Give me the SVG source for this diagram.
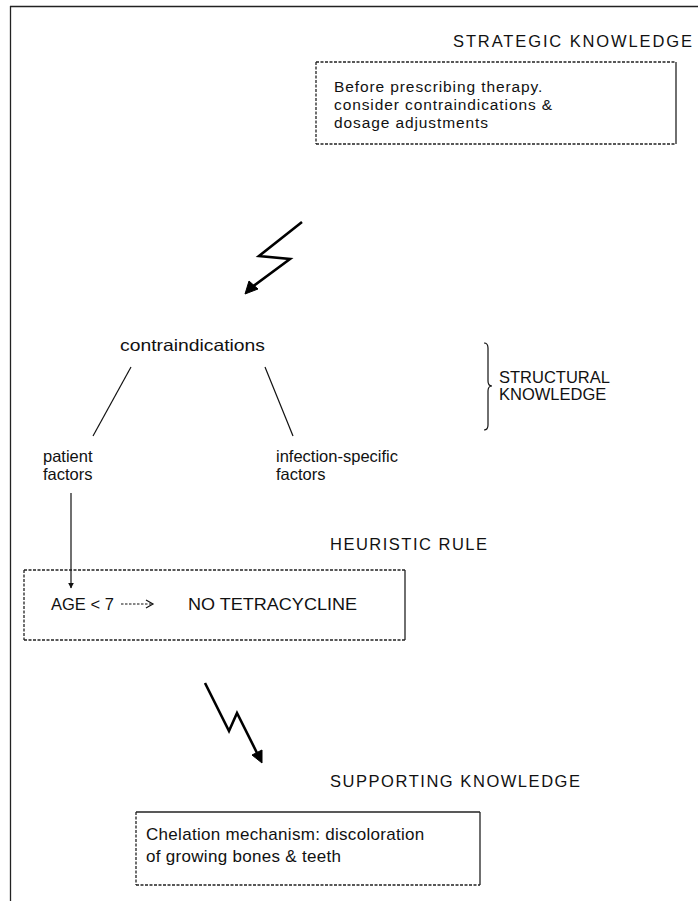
<svg xmlns="http://www.w3.org/2000/svg" width="698" height="901" viewBox="0 0 698 901">
<style>
text{font-family:"Liberation Sans",Arial,sans-serif;fill:#111}
.lbl{font-size:16.5px}
.box{font-size:15.5px;letter-spacing:0.9px}
.box3{font-size:17px;letter-spacing:0.3px}
.n{font-size:16.5px}
.dash{fill:none;stroke:#222;stroke-width:1.3;stroke-dasharray:3 1.5}
.solid{fill:none;stroke:#222;stroke-width:1.3}
.ln{fill:none;stroke:#111;stroke-width:1.2}
.bolt{fill:none;stroke:#000;stroke-width:2.6;stroke-linejoin:miter}
</style>
<defs>
<marker id="tri" viewBox="0 0 10 10" refX="9" refY="5" markerWidth="6" markerHeight="6" orient="auto" markerUnits="userSpaceOnUse">
<path d="M0,0 L10,5 L0,10 z" fill="#111"/>
</marker>
</defs>
<rect width="698" height="901" fill="#fff"/>
<g id="frame">
<line x1="10" y1="6.5" x2="698" y2="6.5" class="solid" stroke-width="1.6"/>
<line x1="10.5" y1="6" x2="10.5" y2="901" class="solid" stroke-width="1.8"/>
</g>
<g id="strategic">
<text class="lbl" x="453" y="47" textLength="239" lengthAdjust="spacing">STRATEGIC  KNOWLEDGE</text>
<line x1="316" y1="62" x2="676" y2="62" class="dash"/>
<line x1="316" y1="62" x2="316" y2="144" class="dash"/>
<line x1="676" y1="62" x2="676" y2="144" class="solid"/>
<line x1="316" y1="144" x2="676" y2="144" class="dash"/>
<text class="box" x="334" y="92">Before prescribing therapy.</text>
<text class="box" x="334" y="110">consider contraindications &amp;</text>
<text class="box" x="334" y="128">dosage adjustments</text>
</g>
<g id="contraindications">
<text class="n" x="120" y="351" textLength="145" lengthAdjust="spacingAndGlyphs">contraindications</text>
</g>
<g id="patient-factors">
<text class="n" x="43" y="462">patient</text>
<text class="n" x="43" y="480">factors</text>
</g>
<g id="infection-factors">
<text class="n" x="276" y="462">infection-specific</text>
<text class="n" x="276" y="480">factors</text>
</g>
<g id="structural">
<path d="M484,343 Q488,343 488,348 L488,381 Q488,386 492,386 Q488,386 488,391 L488,425 Q488,430 484,430" class="ln"/>
<text class="lbl" x="499" y="383">STRUCTURAL</text>
<text class="lbl" x="499" y="400">KNOWLEDGE</text>
</g>
<g id="heuristic">
<text class="lbl" x="330" y="550" textLength="157" lengthAdjust="spacing">HEURISTIC  RULE</text>
<line x1="24" y1="570" x2="405" y2="570" class="dash"/>
<line x1="24" y1="570" x2="24" y2="640" class="dash"/>
<line x1="405" y1="570" x2="405" y2="640" class="solid"/>
<line x1="24" y1="640" x2="405" y2="640" class="dash"/>
<text class="n" x="51" y="610" font-size="15.5px">AGE &lt; 7</text>
<text class="n" x="188" y="610" textLength="169" lengthAdjust="spacingAndGlyphs">NO TETRACYCLINE</text>
<path d="M121,604 L152,604" class="ln" stroke-dasharray="2.5 1.5"/>
<path d="M146,600 L153,604 L146,608" class="ln"/>
</g>
<g id="supporting">
<text class="lbl" x="330" y="787" textLength="250" lengthAdjust="spacing">SUPPORTING  KNOWLEDGE</text>
<line x1="136" y1="812" x2="480" y2="812" class="solid"/>
<line x1="136" y1="812" x2="136" y2="885" class="dash"/>
<line x1="480" y1="812" x2="480" y2="885" class="solid"/>
<line x1="136" y1="885" x2="480" y2="885" class="dash"/>
<text class="box3" x="146" y="840">Chelation mechanism: discoloration</text>
<text class="box3" x="146" y="862">of growing bones &amp; teeth</text>
</g>
<g id="connectors">
<line x1="131" y1="367" x2="93" y2="436" class="ln"/>
<line x1="265" y1="367" x2="293" y2="436" class="ln"/>
<line x1="71" y1="493" x2="71" y2="588" class="ln" marker-end="url(#tri)"/>
<path d="M302,222 L259,256 L290,259 L252,287" class="bolt"/>
<path d="M245,294 L249,281 L258,289 z" fill="#000" stroke="#000" stroke-width="1"/>
<path d="M205,683 L229,731 L237,713 L257,753" class="bolt"/>
<path d="M262,763 L252,755 L262,750 z" fill="#000" stroke="#000" stroke-width="1"/>
</g>
</svg>
